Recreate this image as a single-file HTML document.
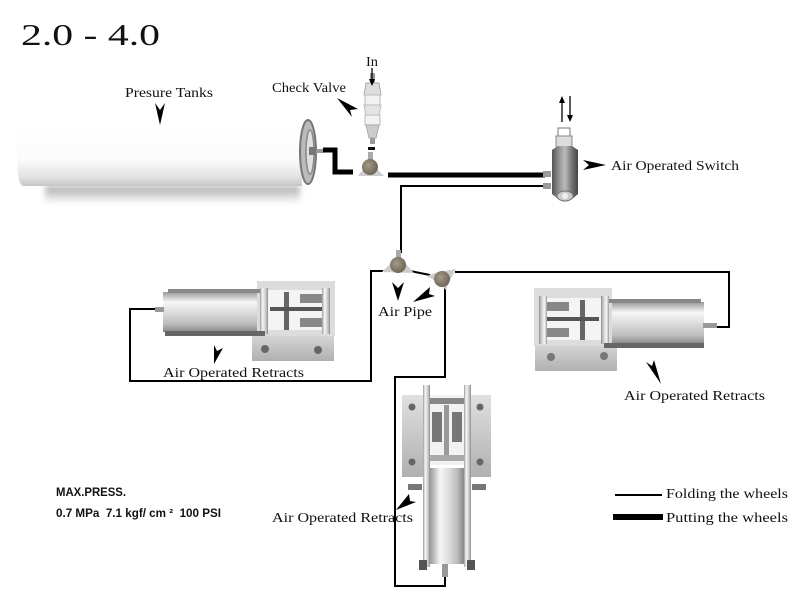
<!DOCTYPE html>
<html><head><meta charset="utf-8"><style>
html,body{margin:0;padding:0;background:#fff;}
svg{display:block;}
.lb{font-family:"Liberation Serif","Noto Serif CJK SC",serif;font-size:14px;fill:#111;}
.sb{font-family:"Liberation Sans",Arial,sans-serif;font-weight:bold;font-size:11.5px;fill:#111;}
</style></head><body>
<svg width="800" height="615" viewBox="0 0 800 615" xmlns="http://www.w3.org/2000/svg">
<defs>
<linearGradient id="tank" x1="0" y1="0" x2="0" y2="1">
<stop offset="0" stop-color="#fff"/><stop offset="0.55" stop-color="#fbfbfb"/><stop offset="0.85" stop-color="#e2e2e2"/><stop offset="1" stop-color="#c4c4c4"/></linearGradient>
<linearGradient id="shadow" x1="0" y1="0" x2="0" y2="1">
<stop offset="0" stop-color="#aaa"/><stop offset="1" stop-color="#fff"/></linearGradient>
<linearGradient id="metV" x1="0" y1="0" x2="0" y2="1">
<stop offset="0" stop-color="#999"/><stop offset="0.25" stop-color="#f6f6f6"/><stop offset="0.5" stop-color="#dedede"/><stop offset="0.8" stop-color="#bcbcbc"/><stop offset="1" stop-color="#888"/></linearGradient>
<linearGradient id="metH" x1="0" y1="0" x2="1" y2="0">
<stop offset="0" stop-color="#999"/><stop offset="0.3" stop-color="#f6f6f6"/><stop offset="0.55" stop-color="#dedede"/><stop offset="0.8" stop-color="#bcbcbc"/><stop offset="1" stop-color="#888"/></linearGradient>
<linearGradient id="plate" x1="0" y1="0" x2="0" y2="1">
<stop offset="0" stop-color="#e0e0e0"/><stop offset="1" stop-color="#b0b0b0"/></linearGradient>
<linearGradient id="sw" x1="0" y1="0" x2="1" y2="0">
<stop offset="0" stop-color="#555"/><stop offset="0.3" stop-color="#999"/><stop offset="0.5" stop-color="#bbb"/><stop offset="0.75" stop-color="#777"/><stop offset="1" stop-color="#444"/></linearGradient>
<radialGradient id="tee" cx="0.4" cy="0.4" r="0.6">
<stop offset="0" stop-color="#a59a88"/><stop offset="1" stop-color="#6e6658"/></radialGradient>
<filter id="bl"><feGaussianBlur stdDeviation="3"/></filter>
</defs>

<!-- title -->
<text x="21" y="45" font-family="Liberation Serif, serif" font-size="31" fill="#111" textLength="139" lengthAdjust="spacingAndGlyphs">2.0 - 4.0</text>

<!-- tank -->
<rect x="45" y="186" width="255" height="18" fill="url(#shadow)" filter="url(#bl)"/>
<path d="M24,128 H302 V186 H24 Q17,186 17,157 Q17,128 24,128 Z" fill="url(#tank)"/>
<ellipse cx="308" cy="152" rx="8" ry="32" fill="#bbb" stroke="#777" stroke-width="2"/>
<ellipse cx="310" cy="152" rx="4" ry="22" fill="#e0e0e0" stroke="#888" stroke-width="1.5"/>
<rect x="309" y="147" width="8" height="8" fill="#777"/>
<rect x="316" y="149" width="8" height="4" fill="#999"/>

<!-- thick Z pipe -->
<path d="M323,150 H335 V172 H353" fill="none" stroke="#000" stroke-width="5"/>

<!-- check valve -->
<g>
<rect x="370" y="73" width="5" height="10" fill="#999"/>
<path d="M366,83 H379 L381,95 H364 Z" fill="#ddd" stroke="#aaa"/>
<rect x="365" y="95" width="15" height="10" fill="#f2f2f2" stroke="#bbb"/>
<path d="M364,105 H381 L379,115 H366 Z" fill="#e4e4e4" stroke="#bbb"/>
<rect x="365" y="115" width="15" height="10" fill="#f2f2f2" stroke="#bbb"/>
<path d="M366,125 H379 L376,138 H369 Z" fill="#ccc" stroke="#aaa"/>
<rect x="370" y="138" width="5" height="6" fill="#999"/>
<rect x="368" y="147" width="7" height="3" fill="#111"/>
</g>
<!-- In arrow -->
<line x1="372" y1="68" x2="372" y2="80" stroke="#000" stroke-width="1.3"/>
<path d="M369,79 L375,79 L372,86 Z" fill="#000"/>

<!-- tee at tank -->
<g>
<path d="M358,176 L364,168 L376,168 L384,176 Z" fill="#ccc"/>
<rect x="368" y="152" width="5" height="8" fill="#aaa"/>
<circle cx="370" cy="167" r="8" fill="url(#tee)"/>
</g>

<!-- thick pipe to switch -->
<line x1="388" y1="175" x2="545" y2="175" stroke="#000" stroke-width="5"/>
<!-- thin pipe to switch -->
<path d="M545,186 H401 V253" fill="none" stroke="#000" stroke-width="2"/>

<!-- switch -->
<g>
<rect x="543" y="171" width="8" height="6" fill="#999"/>
<rect x="543" y="183" width="8" height="6" fill="#999"/>
<rect x="558" y="128" width="12" height="8" fill="#fff" stroke="#777"/>
<rect x="556" y="136" width="16" height="12" fill="#ddd" stroke="#888"/>
<path d="M552,150 L558,146 H572 L578,150 V194 L572,199 H558 L552,194 Z" fill="url(#sw)"/>
<ellipse cx="565" cy="196" rx="8" ry="5" fill="#ccc" stroke="#777"/>
<circle cx="565" cy="196" r="3" fill="#eee"/>
</g>
<!-- up/down arrows -->
<line x1="562" y1="101" x2="562" y2="122" stroke="#000" stroke-width="1.3"/>
<path d="M559,103 L565,103 L562,96 Z" fill="#000"/>
<line x1="570" y1="96" x2="570" y2="117" stroke="#000" stroke-width="1.3"/>
<path d="M567,115 L573,115 L570,122 Z" fill="#000"/>

<!-- Air pipe lines -->
<path d="M383,271 H371 V381 H130 V309 H155" fill="none" stroke="#000" stroke-width="2"/>
<line x1="410" y1="271" x2="430" y2="275" stroke="#000" stroke-width="2"/>
<path d="M455,272 H729 V327 H717" fill="none" stroke="#000" stroke-width="2"/>
<path d="M445,288 V377 H395 V586 H445 V577" fill="none" stroke="#000" stroke-width="2"/>
<g>
<path d="M382,272 L390,264 L406,264 L414,273 Z" fill="#ccc"/>
<rect x="396" y="250" width="5" height="8" fill="#aaa"/>
<circle cx="398" cy="265" r="8" fill="url(#tee)"/>
</g>
<g>
<path d="M427,276 L438,272 L456,269 L450,280 L446,290 L440,284 Z" fill="#ccc"/>
<circle cx="442" cy="279" r="8" fill="url(#tee)"/>
</g>

<!-- left retract -->
<g>
<rect x="252" y="328" width="82" height="33" fill="url(#plate)"/>
<circle cx="265" cy="349" r="4" fill="#666"/>
<circle cx="318" cy="350" r="4" fill="#666"/>
<rect x="257" y="281" width="78" height="55" fill="#dcdcdc"/>
<rect x="266" y="290" width="60" height="40" fill="#f4f4f4"/>
<rect x="284" y="292" width="5" height="38" fill="#666"/>
<rect x="300" y="294" width="25" height="9" fill="#888"/>
<rect x="300" y="318" width="25" height="9" fill="#888"/>
<rect x="270" y="307" width="55" height="4" fill="#555"/>
<rect x="260" y="288" width="8" height="46" fill="url(#metH)"/>
<rect x="322" y="288" width="8" height="46" fill="url(#metH)"/>
<rect x="163" y="292" width="94" height="40" fill="url(#metV)"/>
<rect x="168" y="289" width="92" height="4" fill="#888"/>
<rect x="165" y="331" width="100" height="5" fill="#666"/>
<rect x="155" y="307" width="9" height="5" fill="#999"/>
</g>

<!-- right retract (mirrored) -->
<g transform="translate(869,10) scale(-1,1)">
<rect x="252" y="328" width="82" height="33" fill="url(#plate)"/>
<circle cx="265" cy="346" r="4" fill="#777"/>
<circle cx="318" cy="347" r="4" fill="#777"/>
<rect x="257" y="278" width="78" height="58" fill="#dcdcdc"/>
<rect x="266" y="288" width="60" height="42" fill="#f4f4f4"/>
<rect x="284" y="290" width="5" height="40" fill="#666"/>
<rect x="300" y="292" width="25" height="9" fill="#888"/>
<rect x="300" y="318" width="25" height="9" fill="#888"/>
<rect x="270" y="307" width="55" height="4" fill="#555"/>
<rect x="260" y="286" width="8" height="48" fill="url(#metH)"/>
<rect x="322" y="286" width="8" height="48" fill="url(#metH)"/>
<rect x="165" y="292" width="92" height="42" fill="url(#metV)"/>
<rect x="168" y="289" width="92" height="4" fill="#888"/>
<rect x="165" y="333" width="100" height="5" fill="#666"/>
<rect x="152" y="313" width="14" height="5" fill="#999"/>
</g>

<!-- bottom retract -->
<g>
<rect x="402" y="395" width="22" height="82" fill="url(#plate)"/>
<rect x="469" y="395" width="22" height="82" fill="url(#plate)"/>
<circle cx="412" cy="407" r="3.5" fill="#666"/>
<circle cx="412" cy="462" r="3.5" fill="#666"/>
<circle cx="480" cy="407" r="3.5" fill="#666"/>
<circle cx="480" cy="462" r="3.5" fill="#666"/>
<rect x="430" y="395" width="34" height="70" fill="#f2f2f2"/>
<rect x="430" y="398" width="34" height="6" fill="#888"/>
<rect x="432" y="412" width="10" height="30" fill="#777"/>
<rect x="452" y="412" width="10" height="30" fill="#777"/>
<rect x="444" y="405" width="5" height="55" fill="#999"/>
<rect x="430" y="455" width="34" height="6" fill="#aaa"/>
<rect x="423" y="385" width="7" height="182" fill="url(#metH)"/>
<rect x="464" y="385" width="7" height="182" fill="url(#metH)"/>
<rect x="430" y="468" width="34" height="96" fill="url(#metH)"/>
<rect x="408" y="484" width="14" height="6" fill="#777"/>
<rect x="472" y="484" width="14" height="6" fill="#777"/>
<rect x="419" y="560" width="8" height="10" fill="#555"/>
<rect x="467" y="560" width="8" height="10" fill="#555"/>
<rect x="442" y="564" width="6" height="13" fill="#999"/>
</g>

<!-- pointer arrowheads -->
<path d="M155,103 L160,125 L165,103 L160,110 Z" fill="#000"/>
<path d="M358,109 L337,98 L352,117 L350,110 Z" fill="#000"/>
<path d="M583,160 L606,165 L583,170 L589,165 Z" fill="#000"/>
<path d="M392,282 L398,301 L404,282 L398,288 Z" fill="#000"/>
<path d="M430,287 L413,302 L435,296 L429,294 Z" fill="#000"/>
<path d="M214,345 L214,364 L223,348 L217,351 Z" fill="#000"/>
<path d="M646,362 L661,384 L654,360 L652,366 Z" fill="#000"/>
<path d="M409,494 L396,510 L416,502 L410,501 Z" fill="#000"/>

<!-- labels -->
<text class="lb" x="125" y="97" textLength="88" lengthAdjust="spacingAndGlyphs">Presure Tanks</text>
<text class="lb" x="272" y="92" textLength="74" lengthAdjust="spacingAndGlyphs">Check Valve</text>
<text class="lb" x="366" y="66" textLength="12" lengthAdjust="spacingAndGlyphs">In</text>
<text class="lb" x="611" y="170" textLength="128" lengthAdjust="spacingAndGlyphs">Air Operated Switch</text>
<text class="lb" x="378" y="316" textLength="54" lengthAdjust="spacingAndGlyphs">Air Pipe</text>
<text class="lb" x="163" y="377" textLength="141" lengthAdjust="spacingAndGlyphs">Air Operated Retracts</text>
<text class="lb" x="624" y="400" textLength="141" lengthAdjust="spacingAndGlyphs">Air Operated Retracts</text>
<text class="lb" x="272" y="522" textLength="141" lengthAdjust="spacingAndGlyphs">Air Operated Retracts</text>

<text class="sb" x="56" y="496" textLength="70" lengthAdjust="spacingAndGlyphs">MAX.PRESS.</text>
<text class="sb" x="56" y="517" textLength="165" lengthAdjust="spacingAndGlyphs">0.7 MPa&#160; 7.1 kgf/ cm ²&#160; 100 PSI</text>

<!-- legend -->
<line x1="615" y1="495" x2="662" y2="495" stroke="#000" stroke-width="2"/>
<rect x="613" y="514" width="50" height="6" fill="#000"/>
<text class="lb" x="666" y="498" textLength="122" lengthAdjust="spacingAndGlyphs">Folding the wheels</text>
<text class="lb" x="666" y="522" textLength="122" lengthAdjust="spacingAndGlyphs">Putting the wheels</text>
</svg>
</body></html>
